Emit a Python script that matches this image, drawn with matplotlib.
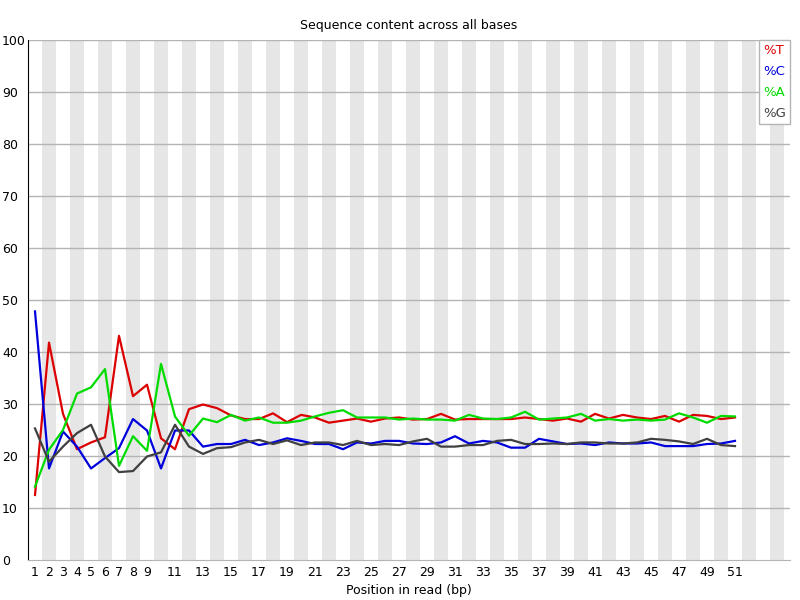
import numpy as np
import matplotlib
matplotlib.use('Agg')
import matplotlib.pyplot as plt

# per-base sequence content, positions 1..51
positions = list(range(1, 52))
pct_t = [12.5, 41.8, 28.1, 21.3, 22.6, 23.6, 43.1, 31.5, 33.7, 23.4,
         21.3, 29.0, 29.9, 29.2, 27.8, 27.1, 27.1, 28.2, 26.5, 27.9,
         27.4, 26.4, 26.8, 27.2, 26.6, 27.2, 27.4, 27.0, 27.1, 28.1,
         27.0, 27.1, 27.1, 27.1, 27.1, 27.4, 27.1, 26.8, 27.2, 26.6,
         28.1, 27.2, 27.9, 27.4, 27.1, 27.7, 26.6, 27.9, 27.7, 27.1, 27.4]
pct_c = [47.8, 17.6, 24.7, 21.8, 17.6, 19.6, 21.5, 27.1, 24.9, 17.6,
         24.9, 24.9, 21.8, 22.3, 22.3, 23.1, 22.1, 22.6, 23.4, 22.9,
         22.3, 22.3, 21.3, 22.6, 22.4, 22.9, 22.9, 22.4, 22.3, 22.6,
         23.8, 22.4, 22.9, 22.6, 21.6, 21.6, 23.3, 22.8, 22.3, 22.4,
         22.1, 22.6, 22.4, 22.4, 22.6, 21.9, 21.9, 21.9, 22.3, 22.4, 22.9]
pct_a = [14.1, 21.2, 25.0, 32.0, 33.2, 36.7, 18.1, 23.8, 21.0, 37.7,
         27.6, 23.9, 27.2, 26.5, 27.9, 26.8, 27.4, 26.4, 26.4, 26.8,
         27.6, 28.3, 28.8, 27.4, 27.4, 27.4, 27.0, 27.2, 27.0, 27.0,
         26.8, 27.9, 27.2, 27.1, 27.4, 28.5, 27.0, 27.2, 27.4, 28.1,
         26.8, 27.1, 26.8, 27.0, 26.8, 27.0, 28.2, 27.4, 26.4, 27.7, 27.6]
pct_g = [25.3, 18.9, 21.8, 24.4, 26.0, 19.9, 16.9, 17.1, 19.9, 20.7,
         26.0, 21.8, 20.4, 21.5, 21.7, 22.6, 23.1, 22.3, 23.0, 22.1,
         22.6, 22.6, 22.1, 22.9, 22.1, 22.3, 22.1, 22.8, 23.3, 21.8,
         21.8, 22.1, 22.1, 22.9, 23.1, 22.3, 22.3, 22.4, 22.3, 22.6,
         22.6, 22.4, 22.4, 22.6, 23.3, 23.1, 22.8, 22.3, 23.3, 22.1, 21.9]
tick_labels = [str(i) for i in range(1, 10)] + [str(i) for i in range(11, 52, 2)]

series = [('%T', pct_t, '#dc0000'),
          ('%C', pct_c, '#0000dc'),
          ('%A', pct_a, '#00dc00'),
          ('%G', pct_g, '#404040')]

fig = plt.figure(figsize=(8, 6), dpi=100)
ax = fig.add_axes([0.035, 0.0667, 0.9525, 0.8667])

x_max = 0.5 + 762 / 14.0
for i in range(2, int(x_max) + 1, 2):
    ax.axvspan(i - 0.5, i + 0.5, color='#e6e6e6', lw=0, zorder=0)

for y in range(10, 101, 10):
    ax.axhline(y, color='#b4b4b4', lw=1, zorder=1)

for name, vals, col in series:
    ax.plot(positions, vals, color=col, lw=1.6, label=name, zorder=3)

ax.set_xlim(0.5, x_max)
ax.set_ylim(0, 100)
ax.set_yticks(range(0, 101, 10))
ticks = [int(t) for t in tick_labels]
ax.set_xticks(ticks)
ax.set_xticklabels(tick_labels)
ax.tick_params(length=0, labelsize=9)
ax.tick_params(axis='y', pad=18.7)
ax.tick_params(axis='x', pad=4)
for lbl in ax.get_yticklabels():
    lbl.set_horizontalalignment('left')
for s in ['top', 'right']:
    ax.spines[s].set_visible(False)
ax.spines['left'].set_color('black')
ax.spines['bottom'].set_color('#b4b4b4')

ax.set_title('Sequence content across all bases', fontsize=9, pad=8)
ax.set_xlabel('Position in read (bp)', fontsize=9, labelpad=4)

leg = ax.legend(loc='upper right', handlelength=0, handletextpad=0,
                fancybox=False, edgecolor='#b4b4b4', framealpha=1,
                fontsize=9.5, borderaxespad=0, labelspacing=0.62,
                borderpad=0.3)
for txt, (_, _, col) in zip(leg.get_texts(), series):
    txt.set_color(col)
for h in leg.legend_handles:
    h.set_visible(False)

fig.savefig('out.png', dpi=100)
